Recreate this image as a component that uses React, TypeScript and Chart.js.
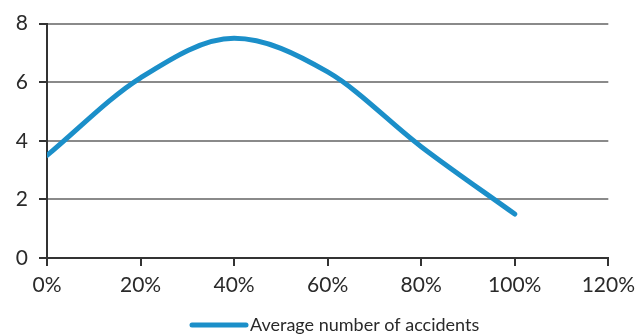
import React, { useEffect, useRef } from "react";
import { Chart, registerables } from "chart.js";

Chart.register(...registerables);

const xPercents = [0, 20, 40, 60, 80, 100];
const accidents = [3.5, 6.15, 7.5, 6.35, 3.8, 1.5];
const seriesLabel = "Average number of accidents";
const xTickValues = [0, 20, 40, 60, 80, 100, 120];
const yTickValues = [0, 2, 4, 6, 8];

const BLUE = "#1b8fc9";
const AXIS = "#333333";
const GRID = "#8a8a8a";
const TEXT = "#2a2a2a";
const FONT = "Lato";

const bottomLegend = {
  id: "bottomLegend",
  afterDraw(chart: any) {
    const ctx = chart.ctx;
    const y = 325;
    const lineStart = 192;
    const lineEnd = 246;
    ctx.save();
    ctx.strokeStyle = BLUE;
    ctx.lineWidth = 5;
    ctx.lineCap = "round";
    ctx.beginPath();
    ctx.moveTo(lineStart, y);
    ctx.lineTo(lineEnd, y);
    ctx.stroke();
    ctx.fillStyle = TEXT;
    ctx.font = `18px ${FONT}`;
    ctx.textBaseline = "middle";
    ctx.textAlign = "left";
    ctx.fillText(chart.data.datasets[0].label, 250, y);
    ctx.restore();
  },
};

export default function App() {
  const ref = useRef<HTMLCanvasElement>(null);

  useEffect(() => {
    if (!ref.current) return;
    const chart = new Chart(ref.current, {
      type: "line",
      data: {
        datasets: [
          {
            label: seriesLabel,
            data: xPercents.map((x, i) => ({ x, y: accidents[i] })),
            borderColor: BLUE,
            backgroundColor: BLUE,
            borderWidth: 5,
            pointRadius: 0,
            cubicInterpolationMode: "monotone",
            borderCapStyle: "round",
            borderJoinStyle: "round",
          },
        ],
      },
      options: {
        responsive: false,
        animation: false,
        layout: { padding: { top: 21, right: 30, left: 0, bottom: 38 } },
        plugins: {
          tooltip: { enabled: false },
          legend: { display: false },
        },
        scales: {
          x: {
            type: "linear",
            min: 0,
            max: 120,
            afterBuildTicks: (s: any) => {
              s.ticks = xTickValues.map((v) => ({ value: v }));
            },
            afterFit: (s: any) => {
              s.height = 40;
            },
            ticks: {
              callback: (v: any) => v + "%",
              color: TEXT,
              font: { family: FONT, size: 21 },
              padding: 7,
              maxRotation: 0,
              autoSkip: false,
            },
            grid: {
              drawOnChartArea: false,
              color: AXIS,
              lineWidth: 2,
              tickLength: 8,
            },
            border: { color: AXIS, width: 2 },
          },
          y: {
            min: 0,
            max: 8,
            afterBuildTicks: (s: any) => {
              s.ticks = yTickValues.map((v) => ({ value: v }));
            },
            afterFit: (s: any) => {
              s.width = 47;
            },
            ticks: {
              color: TEXT,
              font: { family: FONT, size: 21 },
              padding: 11,
            },
            grid: {
              color: GRID,
              lineWidth: 2,
              tickLength: 8,
              tickColor: AXIS,
            },
            border: { color: AXIS, width: 2 },
          },
        },
      },
      plugins: [bottomLegend],
    });
    return () => chart.destroy();
  }, []);

  return (
    <div
      style={{
        position: "fixed",
        left: 0,
        top: 0,
        width: 642,
        height: 336,
        background: "#ffffff",
      }}
    >
      <canvas ref={ref} width={642} height={336} style={{ display: "block" }} />
    </div>
  );
}
